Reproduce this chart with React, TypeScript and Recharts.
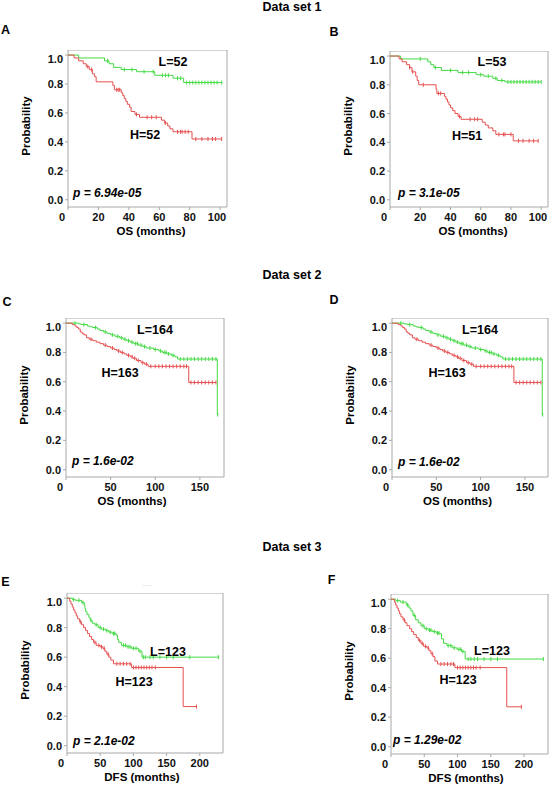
import React from "react";
import { LineChart, Line, XAxis, YAxis, ReferenceArea } from "recharts";

// Kaplan-Meier curves.
// *T = event times (months), *S = survival after that event, *C = censor times

// Data set 1, panel A
const aLowT = [7, 24, 27, 30, 35, 45, 57, 69, 76];
const aLowS = [0.98, 0.96, 0.94, 0.915, 0.9, 0.885, 0.86, 0.84, 0.81];
const aLowC = [26, 37, 42, 50, 56, 62, 64, 66, 72, 74, 78, 80, 82, 84, 86, 88, 90, 92, 94, 96, 98, 101];
const aHighT = [4, 7, 10, 12, 14, 16, 17.5, 18.5, 29.5, 30.5, 35, 36, 37, 38, 39, 40.5, 41.5, 44, 47, 61.5, 63.5, 65.5, 67, 69, 81.5];
const aHighS = [0.98, 0.96, 0.94, 0.92, 0.9, 0.87, 0.85, 0.815, 0.79, 0.76, 0.74, 0.72, 0.7, 0.68, 0.66, 0.64, 0.61, 0.59, 0.57, 0.55, 0.53, 0.51, 0.49, 0.47, 0.42];
const aHighC = [13, 15.5, 32, 33, 34, 45, 52, 55, 58, 64, 72, 74, 75, 77, 79, 84, 88, 92, 95, 97, 101];

// Data set 1, panel B
const bLowT = [7, 25, 27, 29, 34, 45, 57, 62, 68, 71, 76];
const bLowS = [0.98, 0.96, 0.94, 0.92, 0.9, 0.885, 0.87, 0.86, 0.845, 0.83, 0.82];
const bLowC = [20, 30, 40, 48, 52, 60, 65, 70, 74, 78, 80, 82, 84, 86, 88, 90, 92, 94, 96, 98, 100];
const bHighT = [6, 8, 11, 13, 14.5, 17, 18, 19, 30.5, 31, 36, 37, 38, 39, 40, 41.5, 43, 45, 47, 61, 63, 65, 68, 70, 81.5];
const bHighS = [0.98, 0.96, 0.94, 0.92, 0.89, 0.86, 0.83, 0.8, 0.77, 0.74, 0.72, 0.7, 0.68, 0.66, 0.64, 0.62, 0.6, 0.58, 0.56, 0.54, 0.52, 0.5, 0.48, 0.455, 0.41];
const bHighC = [13, 15, 22, 32, 33.5, 46, 53, 56, 58, 72, 75, 76, 80, 85, 88, 92, 95, 98];

// Data set 2, panels C and D (same curves)
const cLowT = [14, 17, 24, 27, 30, 35, 38, 42, 46, 50, 55, 60, 64, 68, 72, 76, 81, 86, 90, 98, 104, 108, 113, 118, 122, 125, 169.5];
const cLowS = [0.995, 0.99, 0.98, 0.975, 0.97, 0.96, 0.95, 0.94, 0.93, 0.92, 0.91, 0.9, 0.89, 0.88, 0.87, 0.86, 0.85, 0.84, 0.83, 0.82, 0.81, 0.8, 0.79, 0.78, 0.77, 0.755, 0.376];
const cLowC = [10, 20, 33, 44, 52, 58, 62, 66, 70, 74, 78, 80, 84, 88, 94, 100, 106, 110, 112, 115, 120, 128, 132, 136, 140, 144, 148, 152, 156, 160, 164, 168, 170];
const cHighT = [7, 10, 12, 14, 16, 18, 20, 23, 26, 30, 34, 38, 42, 46, 50, 54, 57, 61, 65, 68, 72, 75, 79, 84, 88, 92, 137.5];
const cHighS = [0.99, 0.98, 0.97, 0.96, 0.94, 0.93, 0.92, 0.9, 0.89, 0.88, 0.87, 0.86, 0.85, 0.84, 0.83, 0.82, 0.81, 0.8, 0.79, 0.78, 0.77, 0.76, 0.745, 0.73, 0.72, 0.705, 0.595];
const cHighC = [28, 44, 52, 59, 63, 70, 74, 77, 81, 86, 90, 95, 100, 104, 108, 112, 116, 120, 124, 128, 132, 135, 140, 144, 148, 152, 156, 160, 164, 168];

// Data set 3, panel E
const eLowT = [8, 13, 22, 26, 27, 28, 30, 33, 35, 38, 42, 47, 52, 58, 63, 68, 74, 76, 78, 82, 90, 97, 108, 113];
const eLowS = [0.99, 0.985, 0.97, 0.95, 0.93, 0.91, 0.89, 0.87, 0.85, 0.83, 0.82, 0.8, 0.79, 0.78, 0.77, 0.76, 0.75, 0.72, 0.7, 0.68, 0.67, 0.66, 0.64, 0.6];
const eLowC = [10, 18, 24, 36, 44, 50, 55, 60, 65, 70, 72, 85, 88, 92, 95, 100, 104, 110, 115, 118, 125, 130, 140, 150, 160, 185, 228];
const eHighT = [4, 6, 8, 10, 12, 14, 16, 19, 22, 25, 28, 31, 34, 37, 40, 44, 50, 54, 57, 60, 63, 66, 70, 97, 175];
const eHighS = [0.98, 0.96, 0.94, 0.92, 0.9, 0.88, 0.86, 0.84, 0.82, 0.8, 0.78, 0.76, 0.74, 0.72, 0.7, 0.68, 0.67, 0.66, 0.64, 0.62, 0.6, 0.58, 0.555, 0.53, 0.265];
const eHighC = [20, 42, 48, 52, 56, 62, 75, 80, 85, 90, 95, 100, 104, 108, 112, 116, 120, 124, 128, 133, 195];

// Data set 3, panel F
const fLowT = [7, 14, 23, 27, 30, 33, 37, 41, 45, 50, 56, 62, 68, 74, 76, 79, 84, 92, 99, 106, 111.5];
const fLowS = [0.99, 0.98, 0.96, 0.94, 0.92, 0.89, 0.86, 0.84, 0.82, 0.8, 0.79, 0.78, 0.77, 0.765, 0.73, 0.7, 0.685, 0.67, 0.66, 0.645, 0.594];
const fLowC = [10, 18, 25, 35, 48, 53, 58, 60, 65, 70, 72, 86, 90, 95, 102, 105, 108, 116, 120, 125, 130, 140, 150, 160, 229];
const fHighT = [5, 7, 9, 11, 13, 15, 18, 21, 24, 28, 31, 34, 38, 41, 45, 49, 54, 57, 60, 63, 66, 70, 96, 174];
const fHighS = [0.98, 0.96, 0.94, 0.92, 0.9, 0.88, 0.86, 0.84, 0.82, 0.8, 0.78, 0.76, 0.74, 0.72, 0.7, 0.68, 0.67, 0.65, 0.63, 0.61, 0.58, 0.56, 0.536, 0.27];
const fHighC = [20, 43, 47, 52, 56, 62, 75, 80, 85, 90, 94, 100, 104, 108, 112, 116, 120, 124, 128, 134, 196];

const yTicks = [0, 0.2, 0.4, 0.6, 0.8, 1.0];
const osTicks100 = [0, 20, 40, 60, 80, 100];
const osTicks150 = [0, 50, 100, 150];
const dfsTicks = [0, 50, 100, 150, 200];

const GREEN = "#44da44";
const RED = "#e65050";
const FRAME = "#a8a8a8";
const FONT = '"Liberation Sans", Arial, Helvetica, sans-serif';
const Y_MIN = -0.05;
const Y_MAX = 1.035;

type Pt = { t: number; s: number; c: boolean };

function km(times: number[], surv: number[], cens: number[]): Pt[] {
  const pts: Pt[] = [{ t: 0, s: 1, c: false }];
  times.forEach((t, i) => pts.push({ t, s: surv[i], c: false }));
  cens.forEach((t) => {
    let s = 1;
    times.forEach((et, i) => {
      if (et <= t) s = surv[i];
    });
    pts.push({ t, s, c: true });
  });
  return pts.sort((a, b) => a.t - b.t);
}

// censored cases: short vertical tick on the curve
const censorDot = (color: string) => (props: any) => {
  const { cx, cy, payload, index } = props;
  if (!payload || !payload.c) return <g key={`n-${index}`} />;
  return <path key={`c-${index}`} d={`M${cx},${cy - 2}V${cy + 2}`} stroke={color} strokeWidth={1} />;
};

function XTick(props: any) {
  const { x, y, payload } = props;
  const shift = payload.value === 0 ? -6 : 0;
  return (
    <text x={x + shift} y={y + 9} textAnchor="middle" fontSize={11} fontWeight="bold" fill="#111">
      {payload.value}
    </text>
  );
}

function YTick(props: any) {
  const { x, y, payload } = props;
  return (
    <text x={x} y={y + 4} textAnchor="end" fontSize={11} fontWeight="bold" fill="#111">
      {Number(payload.value).toFixed(1)}
    </text>
  );
}

function Txt(props: {
  x: number;
  y: number;
  children: React.ReactNode;
  size?: number;
  italic?: boolean;
  rotate?: boolean;
  start?: boolean;
  color?: string;
  bold?: boolean;
}) {
  const { x, y, children, size = 12, italic, rotate, start, color = "#000", bold = true } = props;
  const tr = (start ? "translate(0,-50%)" : "translate(-50%,-50%)") + (rotate ? " rotate(-90deg)" : "");
  return (
    <div
      style={{
        position: "absolute",
        left: x,
        top: y,
        transform: tr,
        fontSize: size,
        lineHeight: 1,
        fontWeight: bold ? "bold" : "normal",
        fontStyle: italic ? "italic" : "normal",
        color,
        whiteSpace: "nowrap",
      }}
    >
      {children}
    </div>
  );
}

type Panel = {
  letter: string;
  lx: number;
  ly: number;
  x0: number;
  y0: number;
  x1: number;
  y1: number;
  xMax: number;
  xTicks: number[];
  xTitle: string;
  xTitleX: number;
  low: Pt[];
  high: Pt[];
  lowLabel: string;
  lowAt: [number, number];
  highLabel: string;
  highAt: [number, number];
  pText: string;
  pAt: [number, number];
};

const panels: Panel[] = [
  {
    letter: "A", lx: 5.5, ly: 30, x0: 68, y0: 50, x1: 227, y1: 207, xMax: 104.5, xTicks: osTicks100,
    xTitle: "OS (months)", xTitleX: 151, low: km(aLowT, aLowS, aLowC), high: km(aHighT, aHighS, aHighC),
    lowLabel: "L=52", lowAt: [173, 62], highLabel: "H=52", highAt: [145, 135], pText: "6.94e-05", pAt: [73, 193],
  },
  {
    letter: "B", lx: 334, ly: 31.5, x0: 390, y0: 51, x1: 548, y1: 207, xMax: 104.5, xTicks: osTicks100,
    xTitle: "OS (months)", xTitleX: 473, low: km(bLowT, bLowS, bLowC), high: km(bHighT, bHighS, bHighC),
    lowLabel: "L=53", lowAt: [492, 62], highLabel: "H=51", highAt: [467, 136], pText: "3.1e-05", pAt: [398, 193],
  },
  {
    letter: "C", lx: 7, ly: 301.7, x0: 66, y0: 318, x1: 224, y1: 477, xMax: 177, xTicks: osTicks150,
    xTitle: "OS (months)", xTitleX: 132, low: km(cLowT, cLowS, cLowC), high: km(cHighT, cHighS, cHighC),
    lowLabel: "L=164", lowAt: [155, 330], highLabel: "H=163", highAt: [120, 373], pText: "1.6e-02", pAt: [72, 461],
  },
  {
    letter: "D", lx: 334, ly: 300, x0: 392, y0: 318, x1: 548, y1: 477, xMax: 176, xTicks: osTicks150,
    xTitle: "OS (months)", xTitleX: 457.5, low: km(cLowT, cLowS, cLowC), high: km(cHighT, cHighS, cHighC),
    lowLabel: "L=164", lowAt: [480, 330], highLabel: "H=163", highAt: [447, 373], pText: "1.6e-02", pAt: [398, 462],
  },
  {
    letter: "E", lx: 5.5, ly: 581.7, x0: 67, y0: 593, x1: 223, y1: 753, xMax: 235, xTicks: dfsTicks,
    xTitle: "DFS (months)", xTitleX: 142, low: km(eLowT, eLowS, eLowC), high: km(eHighT, eHighS, eHighC),
    lowLabel: "L=123", lowAt: [168, 652], highLabel: "H=123", highAt: [134, 682], pText: "2.1e-02", pAt: [73, 741],
  },
  {
    letter: "F", lx: 331.5, ly: 580, x0: 391, y0: 594, x1: 548, y1: 754, xMax: 236, xTicks: dfsTicks,
    xTitle: "DFS (months)", xTitleX: 466, low: km(fLowT, fLowS, fLowC), high: km(fHighT, fHighS, fHighC),
    lowLabel: "L=123", lowAt: [492, 651], highLabel: "H=123", highAt: [458, 680], pText: "1.29e-02", pAt: [393, 740],
  },
];

const sections = [
  { title: "Data set 1", y: 7 },
  { title: "Data set 2", y: 275 },
  { title: "Data set 3", y: 547 },
];

const Y_AXIS_W = 50;
const X_AXIS_H = 20;

function KmPanel({ p }: { p: Panel }) {
  const width = p.x1 - p.x0 + Y_AXIS_W + 2;
  const height = p.y1 - p.y0 + X_AXIS_H;
  return (
    <>
      <div style={{ position: "absolute", left: p.x0 - Y_AXIS_W, top: p.y0 }}>
        <LineChart width={width} height={height} margin={{ top: 0, right: 2, bottom: 0, left: 0 }}>
          <XAxis
            type="number"
            dataKey="t"
            domain={[0, p.xMax]}
            ticks={p.xTicks}
            allowDataOverflow
            axisLine={false}
            tickLine={{ stroke: FRAME }}
            tickSize={3}
            tickMargin={2}
            height={X_AXIS_H}
            tick={<XTick />}
          />
          <YAxis
            type="number"
            domain={[Y_MIN, Y_MAX]}
            ticks={yTicks}
            allowDataOverflow
            axisLine={false}
            tickLine={{ stroke: FRAME }}
            tickSize={3}
            tickMargin={2}
            width={Y_AXIS_W}
            tick={<YTick />}
          />
          <ReferenceArea x1={0} x2={p.xMax} y1={Y_MIN} y2={Y_MAX} fill="none" stroke={FRAME} strokeWidth={1} ifOverflow="visible" />
          <Line
            data={p.low}
            dataKey="s"
            type="stepAfter"
            stroke={GREEN}
            strokeWidth={1}
            dot={censorDot(GREEN)}
            activeDot={false}
            isAnimationActive={false}
          />
          <Line
            data={p.high}
            dataKey="s"
            type="stepAfter"
            stroke={RED}
            strokeWidth={1}
            dot={censorDot(RED)}
            activeDot={false}
            isAnimationActive={false}
          />
        </LineChart>
      </div>
      <Txt x={p.lx} y={p.ly} size={12.5}>{p.letter}</Txt>
      <Txt x={p.x0 - 41} y={(p.y0 + p.y1) / 2 - 3} size={11.5} rotate>Probability</Txt>
      <Txt x={p.xTitleX} y={p.y1 + 25} size={11.5}>{p.xTitle}</Txt>
      <Txt x={p.lowAt[0]} y={p.lowAt[1]} size={12.5}>{p.lowLabel}</Txt>
      <Txt x={p.highAt[0]} y={p.highAt[1]} size={12.5}>{p.highLabel}</Txt>
      <Txt x={p.pAt[0]} y={p.pAt[1]} size={12} italic start>{`p = ${p.pText}`}</Txt>
    </>
  );
}

export default function App() {
  return (
    <div
      style={{
        position: "absolute",
        left: 0,
        top: 0,
        width: 550,
        height: 788,
        background: "#fff",
        fontFamily: FONT,
        overflow: "hidden",
      }}
    >
      {sections.map((s) => (
        <Txt key={s.title} x={292} y={s.y} size={12.5}>{s.title}</Txt>
      ))}
      <Txt x={147} y={583} size={7} color="#c8c8c8" bold={false}>.....</Txt>
      {panels.map((p) => (
        <KmPanel key={p.letter} p={p} />
      ))}
    </div>
  );
}
